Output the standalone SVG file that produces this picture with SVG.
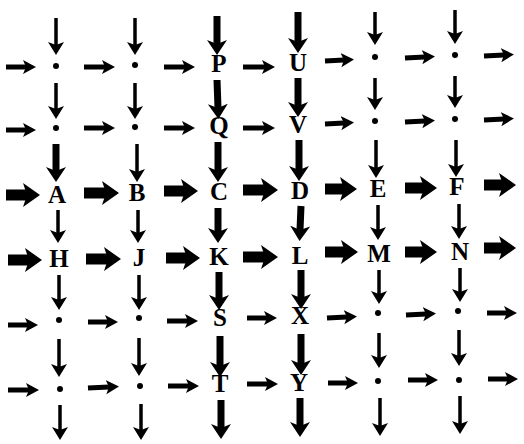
<svg xmlns="http://www.w3.org/2000/svg" width="524" height="444" viewBox="0 0 524 444">
<style>
.bg{fill:#fff}
.thin{stroke:#000;stroke-width:3.5;fill:none;marker-end:url(#hThin)}
.hthin{stroke:#000;stroke-width:5;fill:none;marker-end:url(#hThinH)}
.med{stroke:#000;stroke-width:7;fill:none;marker-end:url(#hMed)}
.thick{stroke:#000;stroke-width:11;fill:none;marker-end:url(#hThick)}
.lbl{font-family:"Liberation Serif","Times New Roman",serif;font-size:25px;font-weight:bold;fill:#000;text-anchor:middle}
.dot{fill:#000}
</style>
<defs>
<marker id="hThin" markerUnits="userSpaceOnUse" markerWidth="14" markerHeight="18" refX="3" refY="9" orient="auto"><path d="M0,1 L13,9 L0,17 L3,9 z" fill="#000"/></marker>
<marker id="hThinH" markerUnits="userSpaceOnUse" markerWidth="14" markerHeight="16" refX="3" refY="8" orient="auto"><path d="M0,1 L13,8 L0,15 L3,8 z" fill="#000"/></marker>
<marker id="hMed" markerUnits="userSpaceOnUse" markerWidth="16" markerHeight="22" refX="4" refY="11" orient="auto"><path d="M0,1 L15,11 L0,21 L4,11 z" fill="#000"/></marker>
<marker id="hThick" markerUnits="userSpaceOnUse" markerWidth="18" markerHeight="26" refX="4" refY="13" orient="auto"><path d="M0,1 L17,13 L0,25 L4,13 z" fill="#000"/></marker>
</defs>
<rect class="bg" x="0" y="0" width="524" height="444"/>
<g id="connectors">
<!-- horizontal row 1 (y=67) -->
<line class="hthin" x1="6" y1="67" x2="26" y2="67"/>
<line class="hthin" x1="84" y1="67" x2="105" y2="67"/>
<line class="hthin" x1="164" y1="67" x2="185" y2="67"/>
<line class="hthin" x1="243" y1="67" x2="265" y2="67"/>
<line class="hthin" x1="325" y1="61" x2="344" y2="60"/>
<line class="hthin" x1="405" y1="58" x2="425" y2="57"/>
<line class="hthin" x1="484" y1="56" x2="504" y2="55"/>
<!-- row 2 (y=128) -->
<line class="hthin" x1="6" y1="130" x2="26" y2="130"/>
<line class="hthin" x1="84" y1="128" x2="105" y2="128"/>
<line class="hthin" x1="164" y1="128" x2="185" y2="128"/>
<line class="hthin" x1="243" y1="128" x2="265" y2="128"/>
<line class="hthin" x1="325" y1="124" x2="344" y2="123"/>
<line class="hthin" x1="405" y1="122" x2="425" y2="121"/>
<line class="hthin" x1="484" y1="120" x2="504" y2="119"/>
<!-- row 3 (y=193) thick -->
<line class="thick" x1="6" y1="195" x2="27" y2="195"/>
<line class="thick" x1="84" y1="193" x2="106" y2="193"/>
<line class="thick" x1="164" y1="191" x2="185" y2="191"/>
<line class="thick" x1="243" y1="190" x2="265" y2="190"/>
<line class="thick" x1="325" y1="189" x2="344" y2="189"/>
<line class="thick" x1="405" y1="188" x2="424" y2="188"/>
<line class="thick" x1="484" y1="185" x2="503" y2="185"/>
<!-- row 4 (y=258) thick -->
<line class="thick" x1="8" y1="260" x2="29" y2="260"/>
<line class="thick" x1="86" y1="259" x2="108" y2="259"/>
<line class="thick" x1="166" y1="258" x2="187" y2="258"/>
<line class="thick" x1="243" y1="257" x2="265" y2="257"/>
<line class="thick" x1="325" y1="252" x2="345" y2="252"/>
<line class="thick" x1="405" y1="252" x2="424" y2="252"/>
<line class="thick" x1="484" y1="248" x2="503" y2="248"/>
<!-- row 5 (y=322) -->
<line class="hthin" x1="8" y1="325" x2="28" y2="325"/>
<line class="hthin" x1="88" y1="322" x2="108" y2="322"/>
<line class="hthin" x1="167" y1="321" x2="188" y2="321"/>
<line class="hthin" x1="247" y1="318" x2="267" y2="318"/>
<line class="hthin" x1="327" y1="318" x2="347" y2="317"/>
<line class="hthin" x1="406" y1="315" x2="426" y2="314"/>
<line class="hthin" x1="487" y1="313" x2="507" y2="313"/>
<!-- row 6 (y=389) -->
<line class="hthin" x1="8" y1="390" x2="29" y2="390"/>
<line class="hthin" x1="88" y1="388" x2="109" y2="387"/>
<line class="hthin" x1="168" y1="386" x2="189" y2="386"/>
<line class="hthin" x1="247" y1="384" x2="268" y2="384"/>
<line class="hthin" x1="328" y1="383" x2="348" y2="383"/>
<line class="hthin" x1="408" y1="380" x2="428" y2="380"/>
<line class="hthin" x1="488" y1="379" x2="508" y2="379"/>
<!-- vertical col 1 (x=56) -->
<line class="thin" x1="56" y1="18" x2="56" y2="45"/>
<line class="thin" x1="56" y1="83" x2="56" y2="109"/>
<line class="med" x1="56" y1="144" x2="56" y2="171"/>
<line class="thin" x1="58" y1="210" x2="58" y2="233"/>
<line class="thin" x1="59" y1="275" x2="59" y2="300"/>
<line class="thin" x1="59" y1="339" x2="59" y2="367"/>
<line class="thin" x1="60" y1="405" x2="60" y2="430"/>
<!-- col 2 (x=135) -->
<line class="thin" x1="135" y1="18" x2="135" y2="45"/>
<line class="thin" x1="135" y1="83" x2="135" y2="109"/>
<line class="thin" x1="137" y1="144" x2="137" y2="172"/>
<line class="thin" x1="138" y1="210" x2="138" y2="233"/>
<line class="thin" x1="139" y1="275" x2="139" y2="300"/>
<line class="thin" x1="139" y1="338" x2="139" y2="366"/>
<line class="thin" x1="141" y1="404" x2="141" y2="430"/>
<!-- col 3 (x=218) heavy -->
<line class="med" x1="217" y1="16" x2="217" y2="44"/>
<line class="med" x1="217" y1="80" x2="218" y2="108"/>
<line class="med" x1="218" y1="142" x2="218" y2="171"/>
<line class="med" x1="218" y1="208" x2="218" y2="232"/>
<line class="med" x1="219" y1="272" x2="219" y2="299"/>
<line class="med" x1="220" y1="336" x2="220" y2="366"/>
<line class="med" x1="221" y1="400" x2="221" y2="428"/>
<!-- col 4 (x=298) heavy -->
<line class="med" x1="298" y1="12" x2="298" y2="42"/>
<line class="med" x1="298" y1="78" x2="298" y2="106"/>
<line class="med" x1="299" y1="140" x2="299" y2="170"/>
<line class="med" x1="301" y1="206" x2="300" y2="230"/>
<line class="med" x1="301" y1="270" x2="301" y2="298"/>
<line class="med" x1="301" y1="334" x2="301" y2="364"/>
<line class="med" x1="300" y1="398" x2="300" y2="426"/>
<!-- col 5 (x=375) -->
<line class="thin" x1="375" y1="12" x2="375" y2="35"/>
<line class="thin" x1="375" y1="78" x2="375" y2="100"/>
<line class="thin" x1="376" y1="140" x2="376" y2="168"/>
<line class="thin" x1="378" y1="205" x2="378" y2="230"/>
<line class="thin" x1="379" y1="270" x2="379" y2="294"/>
<line class="thin" x1="379" y1="333" x2="379" y2="358"/>
<line class="thin" x1="380" y1="398" x2="380" y2="426"/>
<!-- col 6 (x=455) -->
<line class="thin" x1="455" y1="10" x2="455" y2="34"/>
<line class="thin" x1="455" y1="76" x2="455" y2="98"/>
<line class="thin" x1="456" y1="140" x2="456" y2="167"/>
<line class="thin" x1="459" y1="204" x2="459" y2="229"/>
<line class="thin" x1="460" y1="268" x2="460" y2="292"/>
<line class="thin" x1="459" y1="330" x2="459" y2="356"/>
<line class="thin" x1="460" y1="396" x2="460" y2="424"/>
</g>
<g id="n11"><circle class="dot" cx="56" cy="66" r="3"/></g>
<g id="n12"><circle class="dot" cx="135" cy="65" r="3"/></g>
<g id="P"><text class="lbl" x="219" y="72">P</text></g>
<g id="U"><text class="lbl" x="298" y="71">U</text></g>
<g id="n15"><circle class="dot" cx="375" cy="57" r="3"/></g>
<g id="n16"><circle class="dot" cx="455" cy="55" r="3"/></g>
<g id="n21"><circle class="dot" cx="56" cy="128" r="3"/></g>
<g id="n22"><circle class="dot" cx="135" cy="127" r="3"/></g>
<g id="Q"><text class="lbl" x="219" y="134">Q</text></g>
<g id="V"><text class="lbl" x="298" y="133">V</text></g>
<g id="n25"><circle class="dot" cx="375" cy="121" r="3"/></g>
<g id="n26"><circle class="dot" cx="455" cy="119" r="3"/></g>
<g id="A"><text class="lbl" x="57" y="203">A</text></g>
<g id="B"><text class="lbl" x="137" y="201">B</text></g>
<g id="C"><text class="lbl" x="219" y="200">C</text></g>
<g id="D"><text class="lbl" x="300" y="199">D</text></g>
<g id="E"><text class="lbl" x="378" y="197">E</text></g>
<g id="F"><text class="lbl" x="457" y="195">F</text></g>
<g id="H"><text class="lbl" x="59" y="267">H</text></g>
<g id="J"><text class="lbl" x="139" y="266">J</text></g>
<g id="K"><text class="lbl" x="219" y="265">K</text></g>
<g id="L"><text class="lbl" x="300" y="264">L</text></g>
<g id="M"><text class="lbl" x="379" y="262">M</text></g>
<g id="N"><text class="lbl" x="460" y="260">N</text></g>
<g id="n51"><circle class="dot" cx="59" cy="320" r="3"/></g>
<g id="n52"><circle class="dot" cx="139" cy="318" r="3"/></g>
<g id="S"><text class="lbl" x="220" y="326">S</text></g>
<g id="X"><text class="lbl" x="300" y="324">X</text></g>
<g id="n55"><circle class="dot" cx="378" cy="313" r="3"/></g>
<g id="n56"><circle class="dot" cx="458" cy="311" r="3"/></g>
<g id="n61"><circle class="dot" cx="60" cy="389" r="3"/></g>
<g id="n62"><circle class="dot" cx="140" cy="386" r="3"/></g>
<g id="T"><text class="lbl" x="220" y="392">T</text></g>
<g id="Y"><text class="lbl" x="299" y="391">Y</text></g>
<g id="n65"><circle class="dot" cx="378" cy="381" r="3"/></g>
<g id="n66"><circle class="dot" cx="459" cy="380" r="3"/></g>
</svg>
